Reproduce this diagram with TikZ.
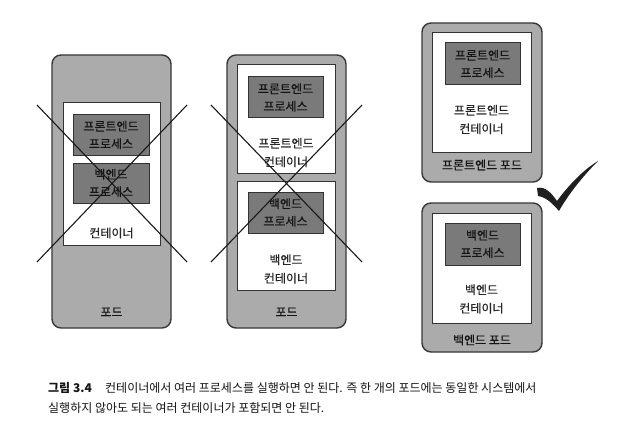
\documentclass[tikz,border=0pt]{standalone}
\usepackage{fontspec}
\setmainfont{Noto Sans CJK KR}
\newfontfamily\lblfont[FakeBold=0.35]{Noto Sans CJK KR}
\begin{document}
\begin{tikzpicture}[x=1pt,y=-1pt,
  pod/.style={draw=black!78, fill=black!33, line width=1.4pt, rounded corners=9pt, inner sep=0pt},
  cont/.style={draw=black!80, fill=white, line width=1pt, inner sep=0pt},
  proc/.style={draw=black!80, fill=black!52, line width=1pt, inner sep=0pt, align=center, text=black!92,
    font=\lblfont\fontsize{12}{17.5}\selectfont},
  lbl/.style={inner sep=0pt, align=center, text=black!85, font=\lblfont\fontsize{12}{18.5}\selectfont},
  podlbl/.style={inner sep=0pt, text=black!92, font=\lblfont\fontsize{12}{14}\selectfont},
  cross/.style={draw=black!90, line width=1.1pt},
  captxt/.style={inner sep=0pt, anchor=base west, text=black!92, font=\fontsize{12}{14}\selectfont}]
\useasboundingbox[fill=white] (0,0) rectangle (634,441);

% ---- pod 1 (wrong: one container, two processes)
\node[pod, minimum width=119pt, minimum height=273pt] (pod1) at (111.5,191.5) {};
\node[cont, minimum width=97pt, minimum height=142pt] (c1) at (111.5,174) {};
\node[proc, minimum width=76pt, minimum height=40pt] (p1a) at (111,135) {프론트엔드\\프로세스};
\node[proc, minimum width=76pt, minimum height=40pt] (p1b) at (111,183) {백엔드\\프로세스};
\node[lbl] (l1) at (111.5,233) {컨테이너};
\node[podlbl] (pl1) at (111.5,312) {포드};
\coordinate (x1a) at (37,105); \coordinate (x1b) at (187,262);
\coordinate (x1c) at (187,105); \coordinate (x1d) at (37,262);
\draw[cross] (x1a) -- (x1b);
\draw[cross] (x1c) -- (x1d);

% ---- pod 2 (wrong: two containers in one pod)
\node[pod, minimum width=119pt, minimum height=273pt] (pod2) at (286.5,191.5) {};
\node[cont, minimum width=98pt, minimum height=108pt] (c2a) at (286,119) {};
\node[proc, minimum width=75pt, minimum height=41pt] (p2a) at (285.5,97.5) {프론트엔드\\프로세스};
\node[lbl] (l2a) at (286,152.5) {프론트엔드\\컨테이너};
\node[cont, minimum width=98pt, minimum height=109pt] (c2b) at (286,235.5) {};
\node[proc, minimum width=75pt, minimum height=41pt] (p2b) at (285.5,212.5) {백엔드\\프로세스};
\node[lbl] (l2b) at (286,269) {백엔드\\컨테이너};
\node[podlbl] (pl2) at (286.5,312) {포드};
\coordinate (x2a) at (211,105); \coordinate (x2b) at (362,262);
\coordinate (x2c) at (362,105); \coordinate (x2d) at (211,262);
\draw[cross] (x2a) -- (x2b);
\draw[cross] (x2c) -- (x2d);

% ---- pod 3 (frontend pod)
\node[pod, minimum width=120pt, minimum height=159pt] (pod3) at (482,102.5) {};
\node[cont, minimum width=99pt, minimum height=119pt] (c3) at (481.5,92.5) {};
\node[proc, minimum width=75pt, minimum height=42pt] (p3) at (482.5,64) {프론트엔드\\프로세스};
\node[lbl] (l3) at (481.5,119.5) {프론트엔드\\컨테이너};
\node[podlbl] (pl3) at (482,165) {프론트엔드 포드};

% ---- pod 4 (backend pod)
\node[pod, minimum width=120pt, minimum height=149pt] (pod4) at (482,277.5) {};
\node[cont, minimum width=99pt, minimum height=110pt] (c4) at (481.5,268) {};
\node[proc, minimum width=75pt, minimum height=42pt] (p4) at (482.5,244) {백엔드\\프로세스};
\node[lbl] (l4) at (481.5,299) {백엔드\\컨테이너};
\node[podlbl] (pl4) at (482,340) {백엔드 포드};

% ---- check mark
\fill[black!88] (537,188) .. controls (546,186) and (552,194) .. (557,201)
  .. controls (568,186) and (583,170) .. (598,161)
  .. controls (585,174) and (569,193) .. (559,211)
  .. controls (553,204) and (546,197) .. (538,196) -- cycle;

% ---- caption
\node[captxt] (capa) at (48,392) {\bfseries 그림 3.4};
\node[captxt] (capb) at (105,392) {컨테이너에서 여러 프로세스를 실행하면 안 된다. 즉 한 개의 포드에는 동일한 시스템에서};
\node[captxt] (capc) at (48,412) {실행하지 않아도 되는 여러 컨테이너가 포함되면 안 된다.};
\end{tikzpicture}
\end{document}
